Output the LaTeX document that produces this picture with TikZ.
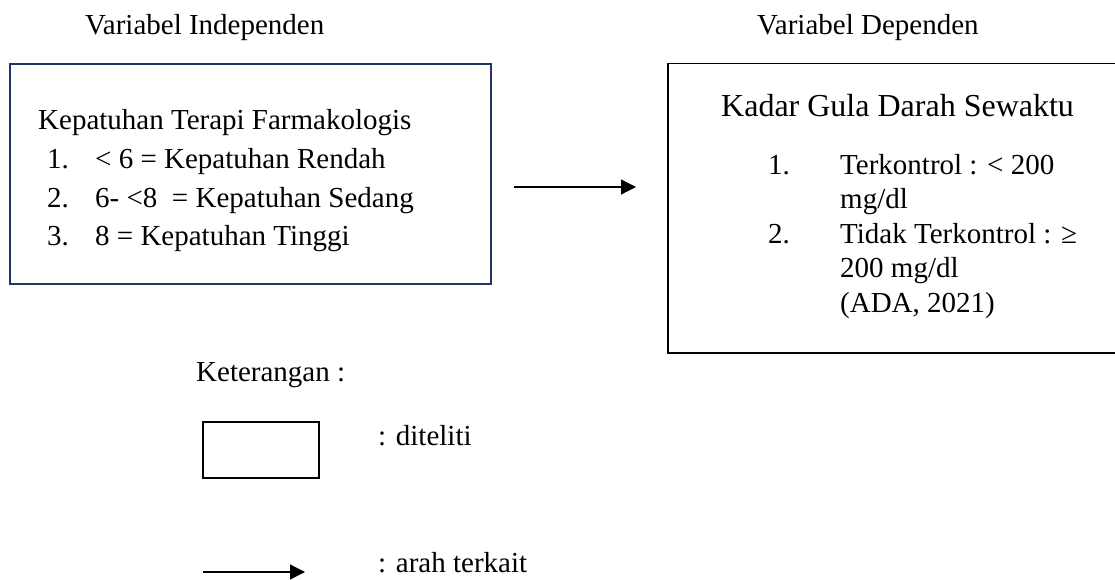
\documentclass[tikz,border=0pt]{standalone}
\usepackage{fontspec}
\setmainfont{Liberation Serif}
\usepackage{tikz}
\usetikzlibrary{arrows.meta}
\definecolor{boxnavy}{HTML}{203864}

\begin{document}
\begin{tikzpicture}[x=1pt, y=-1pt,
    txt/.style={font=\fontsize{29}{34}\selectfont, anchor=base west, inner sep=0pt},
    bigtxt/.style={font=\fontsize{32}{38}\selectfont, anchor=base west, inner sep=0pt},
    varbox/.style={draw, anchor=north west, inner sep=0pt},
    arr/.style={-{Triangle[length=15pt, width=15pt]}, line width=1.2pt}]
\useasboundingbox (0,0) rectangle (1115,580);

% --- headings ---
\node[txt] (hindep) at (85,35) {Variabel Independen};
\node[txt] (hdep) at (757,35) {Variabel Dependen};

% --- Left: independent variable ---
\node[varbox, draw=boxnavy, line width=2pt, minimum width=481pt, minimum height=220pt] (indep) at (9,63) {};
\node[txt] (ititle) at (38,130) {Kepatuhan Terapi Farmakologis};
\node[txt] (in1) at (47,168) {1.};
\node[txt] (it1) at (95,168) {< 6 = Kepatuhan Rendah};
\node[txt] (in2) at (47,207) {2.};
\node[txt] (it2) at (95,207) {6- <8~ = Kepatuhan Sedang};
\node[txt] (in3) at (47,245) {3.};
\node[txt] (it3) at (95,245) {8 = Kepatuhan Tinggi};

% --- Right: dependent variable ---
\node[varbox, line width=1.5pt, minimum width=460pt, minimum height=289pt] (dep) at (667,63) {};
\node[bigtxt] (dtitle) at (721,117) {Kadar Gula Darah Sewaktu};
\node[txt] (dn1) at (768,175) {1.};
\node[txt] (dt1) at (840,175) {Terkontrol : < 200};
\node[txt] (dt1b) at (840,208) {mg/dl};
\node[txt] (dn2) at (768,243) {2.};
\node[txt] (dt2) at (840,243) {Tidak Terkontrol : ≥};
\node[txt] (dt2b) at (840,277) {200 mg/dl};
\node[txt] (dsrc) at (840,312) {(ADA, 2021)};

% --- Middle: relation arrow ---
\coordinate (rfrom) at (514,187);
\coordinate (rto) at (636,187);
\draw[arr] (rfrom) -- (rto);

% --- legend ---
\node[txt] (keter) at (196,381) {Keterangan :};
\node[varbox, line width=1.5pt, minimum width=116pt, minimum height=56pt] (lbox) at (202,421) {};
\node[txt] (lboxtxt) at (378,445) {: diteliti};
\coordinate (lfrom) at (203,572);
\coordinate (lto) at (305,572);
\draw[arr] (lfrom) -- (lto);
\node[txt] (larrtxt) at (378,572) {: arah terkait};

\end{tikzpicture}
\end{document}
